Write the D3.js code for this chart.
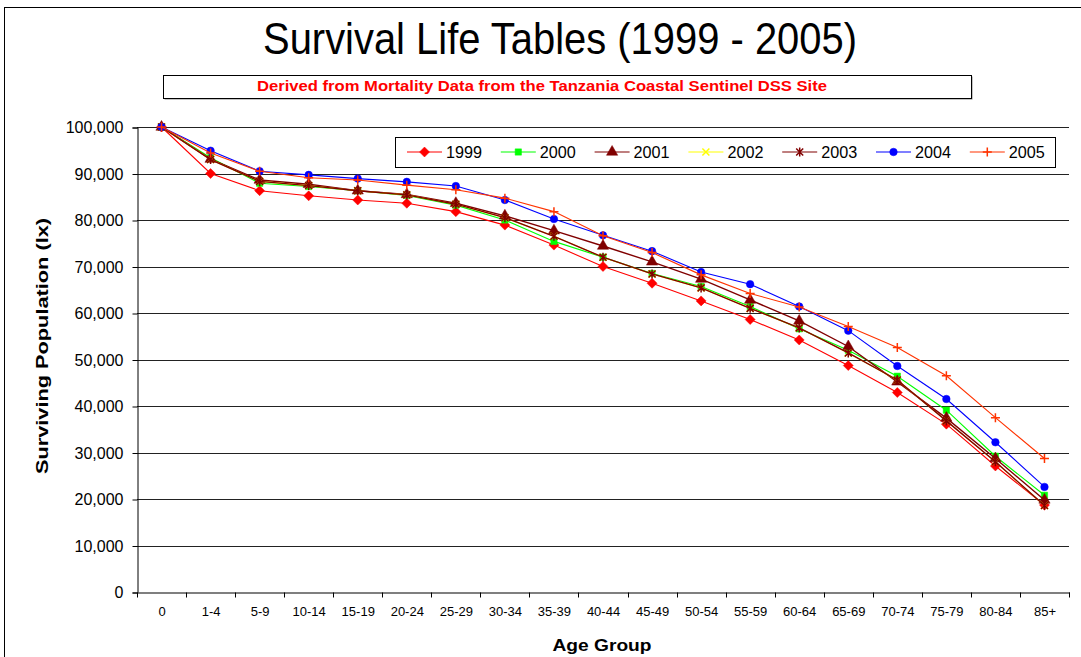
<!DOCTYPE html>
<html>
<head>
<meta charset="utf-8">
<script src="https://cdn.jsdelivr.net/npm/d3@7"></script>
<style>
  body { margin: 0; background: #fff; }
  svg { display: block; font-family: "Liberation Sans", Arial, sans-serif; }
</style>
</head>
<body>
<div id="chart"></div>
<script>
const width = 1081;
const height = 657;

// age groups on the x axis
const ages = ["0", "1-4", "5-9", "10-14", "15-19", "20-24", "25-29", "30-34", "35-39", "40-44",
  "45-49", "50-54", "55-59", "60-64", "65-69", "70-74", "75-79", "80-84", "85+"];

// surviving population (lx) per year
const y1999 = [100000, 90000, 86300, 85200, 84300, 83600, 81800, 78900, 74600, 70000, 66400, 62600, 58600, 54200, 48700, 42900, 36100, 27100, 18700];
const y2000 = [100000, 93400, 87900, 87200, 86300, 85300, 83200, 80000, 75400, 72000, 68500, 65700, 61400, 56600, 52000, 46400, 39100, 29200, 20800];
const y2001 = [100000, 93100, 88600, 87700, 86300, 85500, 83600, 80900, 77700, 74400, 71000, 67300, 62800, 58300, 52800, 45200, 37400, 28700, 19800];
const y2002 = [100000, 93000, 88300, 87400, 86300, 85400, 83400, 80500, 76500, 72000, 68400, 65400, 61000, 56800, 51400, 45600, 36800, 28000, 18600];
const y2003 = [100000, 93000, 88300, 87400, 86300, 85400, 83400, 80500, 76500, 72000, 68400, 65400, 61000, 56800, 51400, 45600, 36800, 28000, 18600];
const y2004 = [100000, 94900, 90500, 89700, 88900, 88200, 87300, 84300, 80200, 76700, 73300, 68800, 66200, 61400, 56200, 48600, 41500, 32200, 22600];
const y2005 = [100000, 94400, 90500, 89100, 88600, 87500, 86500, 84700, 81800, 76600, 73000, 68200, 64200, 61300, 57100, 52600, 46500, 37500, 28700];

const yTicks = [0, 10000, 20000, 30000, 40000, 50000, 60000, 70000, 80000, 90000, 100000];

const series = [
  { name: "1999", values: y1999, color: "#ff0000", marker: "diamond" },
  { name: "2000", values: y2000, color: "#00ff00", marker: "square" },
  { name: "2001", values: y2001, color: "#800000", marker: "triangle" },
  { name: "2002", values: y2002, color: "#ffff00", marker: "x" },
  { name: "2003", values: y2003, color: "#800000", marker: "star" },
  { name: "2004", values: y2004, color: "#0000ff", marker: "circle" },
  { name: "2005", values: y2005, color: "#ff3300", marker: "plus" }
];

const svg = d3.select("#chart").append("svg")
  .attr("width", width)
  .attr("height", height);

// outer chart border
svg.append("rect")
  .attr("x", 4.5).attr("y", 7.5)
  .attr("width", width + 10).attr("height", height + 10)
  .attr("fill", "#fff").attr("stroke", "#000");

// title
svg.append("text")
  .attr("x", 560).attr("y", 54)
  .attr("text-anchor", "middle")
  .attr("font-size", 44)
  .attr("textLength", 594)
  .attr("lengthAdjust", "spacingAndGlyphs")
  .text("Survival Life Tables (1999 - 2005)");

// subtitle box
svg.append("rect")
  .attr("x", 164.5).attr("y", 76.5).attr("width", 808).attr("height", 23)
  .attr("fill", "#888");
svg.append("rect")
  .attr("x", 163.5).attr("y", 75.5).attr("width", 808).attr("height", 23)
  .attr("fill", "#fff").attr("stroke", "#000");
svg.append("text")
  .attr("x", 542).attr("y", 91)
  .attr("text-anchor", "middle")
  .attr("font-size", 14)
  .attr("font-weight", "bold")
  .attr("fill", "#ff0000")
  .attr("textLength", 570)
  .attr("lengthAdjust", "spacingAndGlyphs")
  .text("Derived from Mortality Data  from the Tanzania Coastal Sentinel DSS Site");

const plot = { left: 137, right: 1069, top: 127, bottom: 592 };

const x = d3.scaleBand().domain(ages).range([plot.left, plot.right]);
const y = d3.scaleLinear().domain([0, 100000]).range([plot.bottom, plot.top]);

// gridlines
svg.append("g")
  .selectAll("line")
  .data(yTicks.filter(d => d > 0))
  .join("line")
  .attr("x1", plot.left).attr("x2", plot.right)
  .attr("y1", d => Math.round(y(d)) + 0.5).attr("y2", d => Math.round(y(d)) + 0.5)
  .attr("stroke", "#222");

// y axis
const yAxis = svg.append("g")
  .attr("transform", `translate(${plot.left + 0.5},0.5)`)
  .call(d3.axisLeft(y).tickValues(yTicks).tickFormat(d3.format(",")).tickSizeOuter(0).tickSize(5));
yAxis.selectAll("text").attr("font-size", 16).attr("fill", "#000").attr("font-family", "Liberation Sans, Arial, sans-serif").attr("dx", "-6");
yAxis.select(".domain").attr("stroke", "#000");

// x axis
const xAxis = svg.append("g")
  .attr("transform", `translate(0.5,${plot.bottom + 0.5})`)
  .call(d3.axisBottom(x).tickSize(0).tickPadding(14));
xAxis.selectAll("text").attr("font-size", 13).attr("fill", "#000").attr("font-family", "Liberation Sans, Arial, sans-serif");
xAxis.select(".domain").attr("stroke", "#555").attr("stroke-width", 1.5);
xAxis.selectAll(".cat-tick")
  .data(d3.range(ages.length + 1))
  .join("line")
  .attr("class", "cat-tick")
  .attr("x1", i => Math.round(plot.left + i * x.step()))
  .attr("x2", i => Math.round(plot.left + i * x.step()))
  .attr("y1", 0).attr("y2", 5)
  .attr("stroke", "#000");

// axis titles
svg.append("text")
  .attr("x", 602).attr("y", 651)
  .attr("text-anchor", "middle")
  .attr("font-size", 17).attr("font-weight", "bold")
  .attr("textLength", 99)
  .attr("lengthAdjust", "spacingAndGlyphs")
  .text("Age Group");
svg.append("text")
  .attr("transform", "translate(48,346) rotate(-90)")
  .attr("text-anchor", "middle")
  .attr("font-size", 17).attr("font-weight", "bold")
  .attr("textLength", 256)
  .attr("lengthAdjust", "spacingAndGlyphs")
  .text("Surviving Population (lx)");

function markerPath(type) {
  switch (type) {
    case "diamond": return "M0,-5L5,0L0,5L-5,0Z";
    case "square": return d3.symbol(d3.symbolSquare, 40)();
    case "triangle": return d3.symbol(d3.symbolTriangle, 55)();
    case "circle": return d3.symbol(d3.symbolCircle, 45)();
    case "x": return "M-3.5,-3.5L3.5,3.5M-3.5,3.5L3.5,-3.5";
    case "plus": return "M-4.5,0L4.5,0M0,-4.5L0,4.5";
    case "star": return "M-3.5,-3.5L3.5,3.5M-3.5,3.5L3.5,-3.5M0,-4.5L0,4.5";
  }
}
const stroked = t => t === "x" || t === "plus" || t === "star";

const line = d3.line()
  .x((d, i) => x(ages[i]) + x.bandwidth() / 2)
  .y(d => y(d));

series.forEach(s => {
  const g = svg.append("g");
  g.append("path")
    .attr("d", line(s.values))
    .attr("fill", "none")
    .attr("stroke", s.color)
    .attr("stroke-width", s.name === "2001" || s.name === "2003" ? 1.4 : 1.1);
  g.selectAll("path.m")
    .data(s.values)
    .join("path")
    .attr("class", "m")
    .attr("transform", (d, i) => `translate(${x(ages[i]) + x.bandwidth() / 2},${y(d)})`)
    .attr("d", markerPath(s.marker))
    .attr("fill", stroked(s.marker) ? "none" : s.color)
    .attr("stroke", s.color)
    .attr("stroke-width", stroked(s.marker) ? 1.5 : 0.5);
});

// legend
const legend = svg.append("g");
legend.append("rect")
  .attr("x", 395.5).attr("y", 137.5).attr("width", 660).attr("height", 30)
  .attr("fill", "#fff").attr("stroke", "#000");
const items = legend.selectAll("g.item")
  .data(series)
  .join("g")
  .attr("class", "item")
  .attr("transform", (d, i) => `translate(${407 + i * 93.8},152)`);
items.append("line")
  .attr("x1", 0).attr("x2", 35)
  .attr("stroke", d => d.color).attr("stroke-width", 1.2);
items.append("path")
  .attr("transform", "translate(17.5,0)")
  .attr("d", d => markerPath(d.marker))
  .attr("fill", d => stroked(d.marker) ? "none" : d.color)
  .attr("stroke", d => d.color)
  .attr("stroke-width", d => stroked(d.marker) ? 1.5 : 0.5);
items.append("text")
  .attr("x", 39).attr("y", 6)
  .attr("font-size", 16)
  .attr("textLength", 36)
  .attr("lengthAdjust", "spacingAndGlyphs")
  .text(d => d.name);
</script>
</body>
</html>
